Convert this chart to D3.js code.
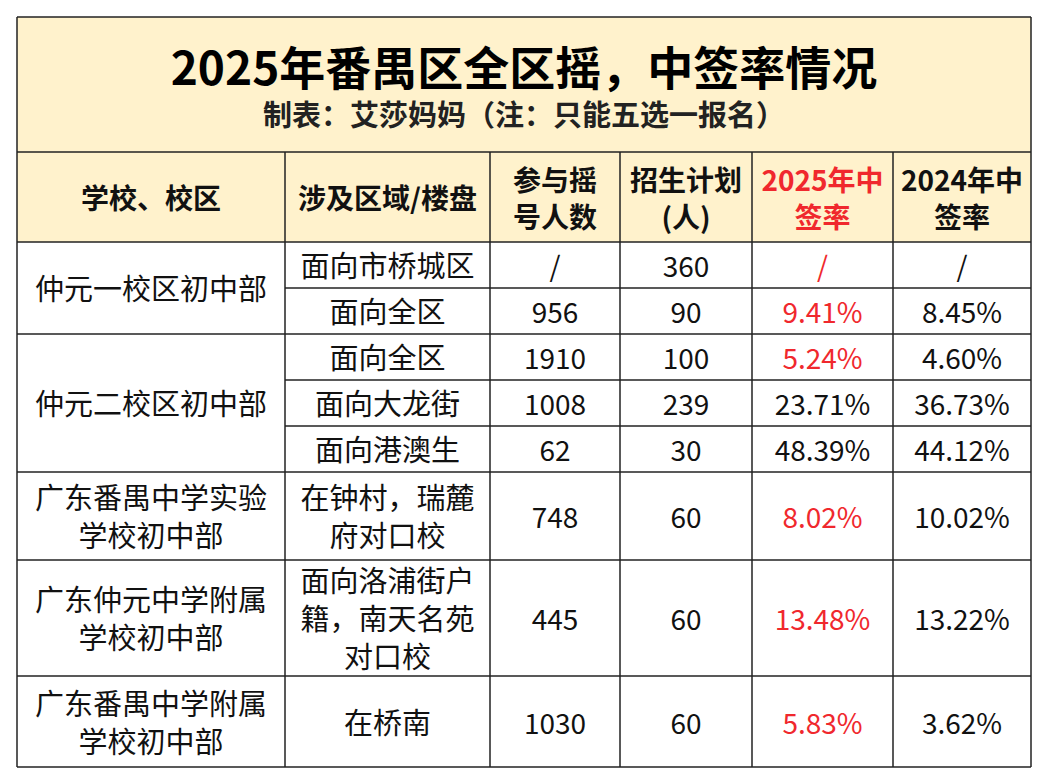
<!DOCTYPE html>
<html><head><meta charset="utf-8">
<script src="https://cdn.jsdelivr.net/npm/d3@7"></script>
<style>body{margin:0;background:#fff}svg{display:block}text{font-family:"Noto Sans CJK SC","Noto Sans",sans-serif}</style>
</head><body><svg id="c" width="1048" height="784"></svg>
<script>
const title = "2025年番禺区全区摇，中签率情况";
const subtitle = "制表：艾莎妈妈（注：只能五选一报名）";
const headers = [["学校、校区"],["涉及区域/楼盘"],["参与摇","号人数"],["招生计划","(人)"],["2025年中","签率"],["2024年中","签率"]];
const headerRed = [false,false,false,false,true,false];
const schools = [["仲元一校区初中部"],["仲元二校区初中部"],["广东番禺中学实验","学校初中部"],["广东仲元中学附属","学校初中部"],["广东番禺中学附属","学校初中部"]];
const schoolRows = [[0,2],[2,5],[5,6],[6,7],[7,8]];
const areas = [["面向市桥城区"],["面向全区"],["面向全区"],["面向大龙街"],["面向港澳生"],["在钟村，瑞麓","府对口校"],["面向洛浦街户","籍，南天名苑","对口校"],["在桥南"]];
const participants = ["/","956","1910","1008","62","748","445","1030"];
const plans = ["360","90","100","239","30","60","60","60"];
const rate2025 = ["/","9.41%","5.24%","23.71%","48.39%","8.02%","13.48%","5.83%"];
const rate2024 = ["/","8.45%","4.60%","36.73%","44.12%","10.02%","13.22%","3.62%"];
const red2025 = [true,true,true,false,false,true,true,true];

const colEdges = [17,285,490,620,752,893,1031];
const rowEdges = [242,288,334,380,426,472,560,676,767];
const x = d3.scaleOrdinal().domain(d3.range(colEdges.length)).range(colEdges);
const y = d3.scaleOrdinal().domain(d3.range(rowEdges.length)).range(rowEdges);
const svg = d3.select("#c");
const RED = "#f0282d", YEL = "#fff2cc";

svg.append("rect").attr("x",17).attr("y",17).attr("width",1014).attr("height",225).attr("fill",YEL);
svg.append("text").attr("x",524).attr("y",85).attr("text-anchor","middle").attr("font-size",46).attr("font-weight","bold").text(title);
svg.append("text").attr("x",524).attr("y",126).attr("text-anchor","middle").attr("font-size",29).attr("font-weight","bold").attr("fill","#222").text(subtitle);

function cellText(lines, c0, c1, y0, y1, opts){
  const lh = opts.lh||38, cx=(x(c0)+x(c1))/2, cy=(y0+y1)/2+2;
  const t = svg.append("text").attr("text-anchor","middle").attr("font-size",opts.fs||28)
    .attr("font-weight",opts.bold?"bold":"normal").attr("fill",opts.fill||"#111");
  lines.forEach((l,i)=>t.append("tspan").attr("x",cx).attr("y",cy+(i-(lines.length-1)/2)*lh).attr("dy","0.36em").text(l));
}
headers.forEach((h,i)=>cellText(h,i,i+1,152,242,{bold:true,fs:28,fill:headerRed[i]?RED:"#111",lh:37}));
schools.forEach((s,i)=>cellText(s,0,1,y(schoolRows[i][0]),y(schoolRows[i][1]),{lh:38,fs:29}));
areas.forEach((a,r)=>{
  const y0=y(r),y1=y(r+1);
  cellText(a,1,2,y0,y1,{lh:38,fs:29});
  cellText([participants[r]],2,3,y0,y1,{});
  cellText([plans[r]],3,4,y0,y1,{});
  cellText([rate2025[r]],4,5,y0,y1,{fill:red2025[r]?RED:"#111"});
  cellText([rate2024[r]],5,6,y0,y1,{});
});

const L = svg.append("g").attr("stroke","#222").attr("stroke-width",1.5);
const hl=(x1,x2,yy)=>L.append("line").attr("x1",x1).attr("x2",x2).attr("y1",yy).attr("y2",yy);
const vl=(xx,y1,y2)=>L.append("line").attr("x1",xx).attr("x2",xx).attr("y1",y1).attr("y2",y2);
hl(17,1031,17);hl(17,1031,152);hl(17,1031,242);
rowEdges.forEach((e,i)=>{ if(i===0) return;
  const isSchool = schoolRows.some(s=>y(s[1])===e);
  hl(isSchool?17:x(1),1031,e);
});
colEdges.forEach((e,i)=>vl(e,i===0||i===6?17:152,767));
</script></body></html>
